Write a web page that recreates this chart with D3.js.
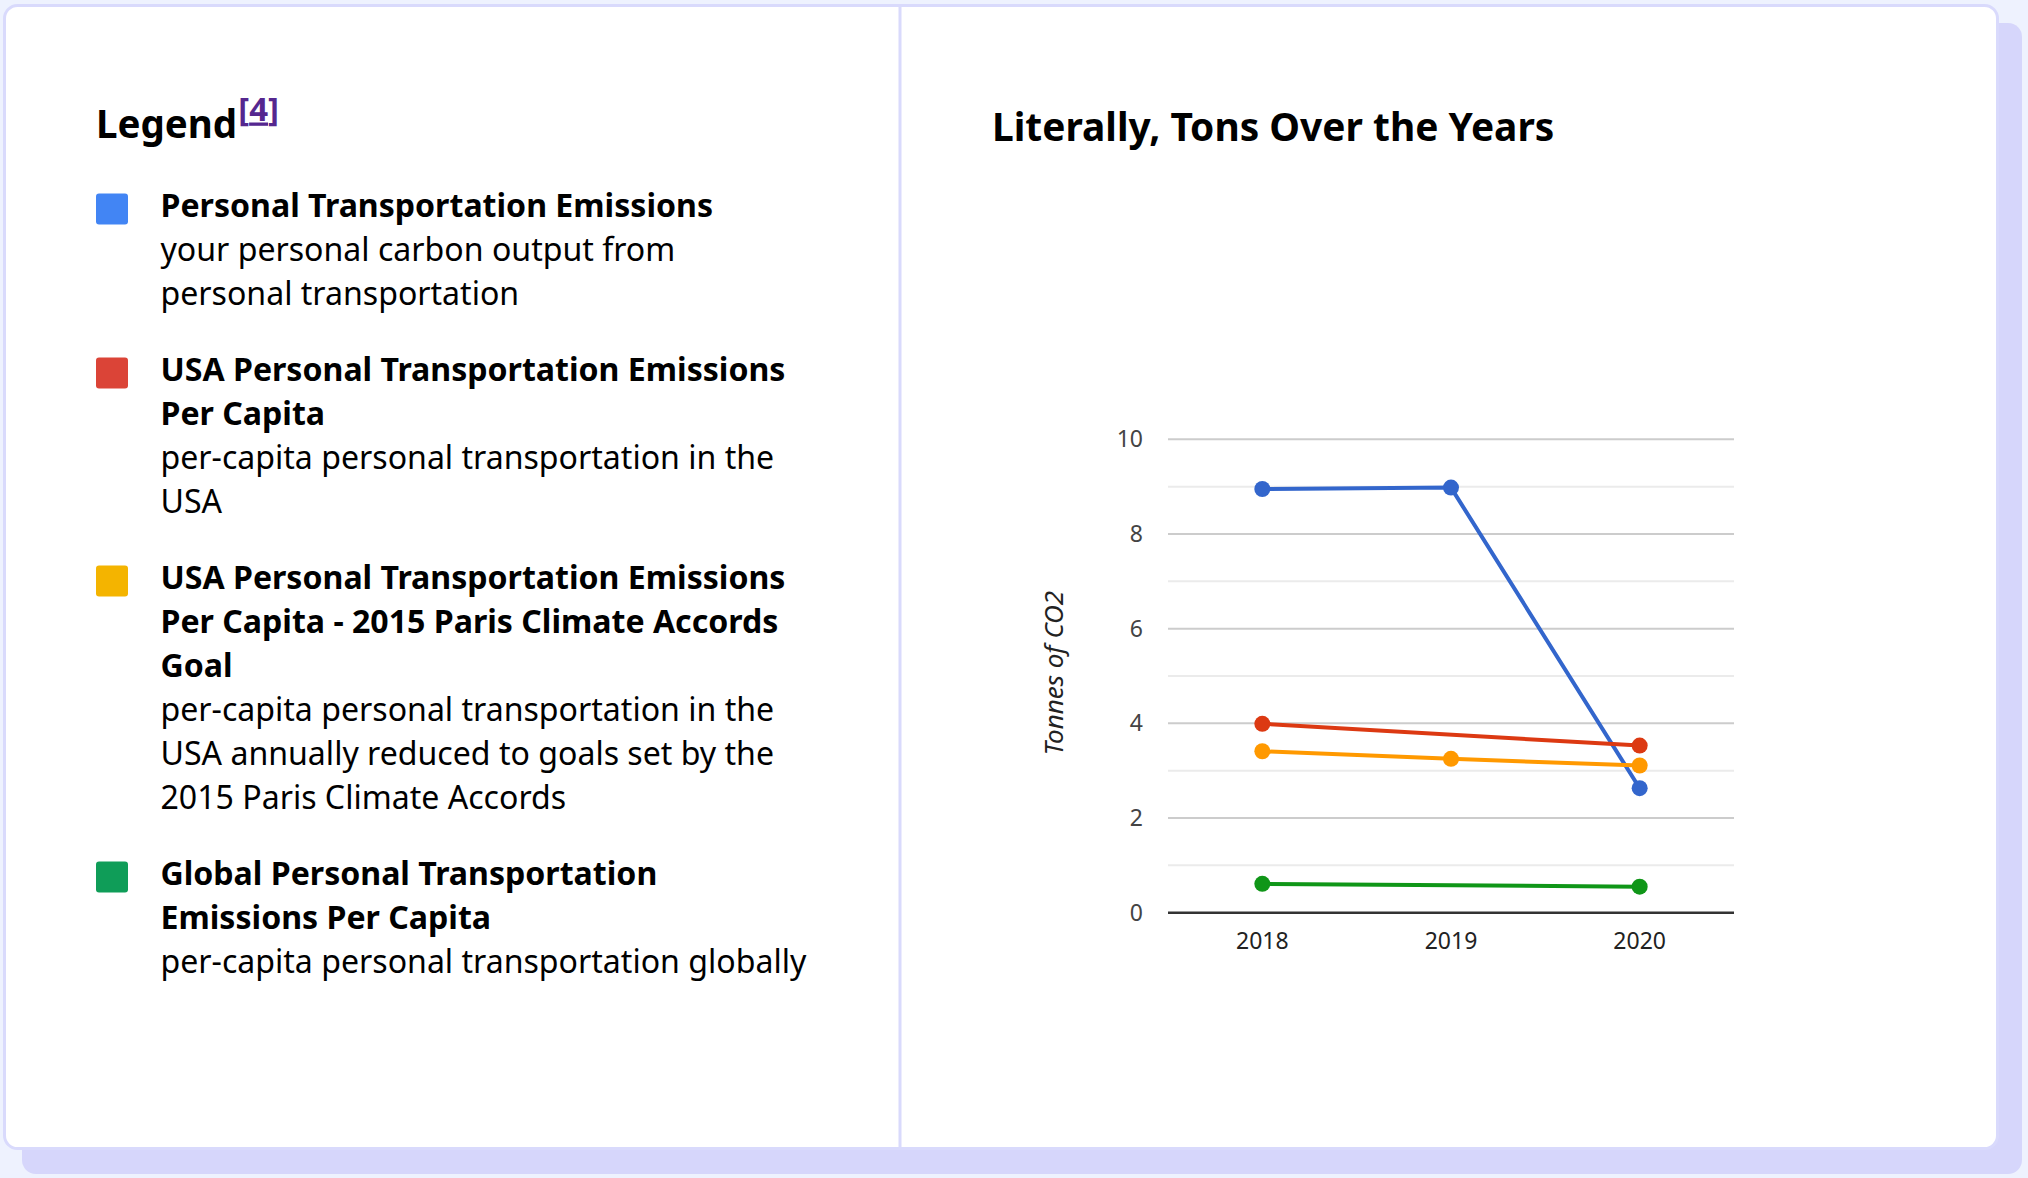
<!DOCTYPE html>
<html>
<head>
<meta charset="utf-8">
<script src="https://cdn.jsdelivr.net/npm/d3@7"></script>
<style>
  body { margin: 0; background: #eef2fe; font-family: "Noto Sans", sans-serif; }
</style>
</head>
<body>
<div id="page"></div>
<script>
// chart data
const years = ["2018", "2019", "2020"];
const personalEmissions = [8.95, 8.98, 2.63];
const usaPerCapita = [3.99, null, 3.53];
const parisGoal = [3.41, 3.25, 3.11];
const globalPerCapita = [0.61, null, 0.55];
const yTicks = [0, 2, 4, 6, 8, 10];
const yMinor = [1, 3, 5, 7, 9];

const seriesValues = [personalEmissions, usaPerCapita, parisGoal, globalPerCapita];
const lineColors = ["#3366cc", "#dc3912", "#ff9900", "#109618"];
const swatchColors = ["#4285f4", "#db4437", "#f4b400", "#0f9d58"];

// legend text, already broken into lines like the page shows it
const legendTitles = [
  ["Personal Transportation Emissions"],
  ["USA Personal Transportation Emissions", "Per Capita"],
  ["USA Personal Transportation Emissions", "Per Capita - 2015 Paris Climate Accords", "Goal"],
  ["Global Personal Transportation", "Emissions Per Capita"]
];
const legendDescs = [
  ["your personal carbon output from", "personal transportation"],
  ["per-capita personal transportation in the", "USA"],
  ["per-capita personal transportation in the", "USA annually reduced to goals set by the", "2015 Paris Climate Accords"],
  ["per-capita personal transportation globally"]
];

const W = 2028, H = 1178;
const border_color = "#d9dafc";

const svg = d3.select("#page").append("svg")
  .attr("width", W).attr("height", H);

// card + shadow
svg.append("rect")
  .attr("x", 22).attr("y", 23).attr("width", 2000).attr("height", 1151)
  .attr("rx", 14).style("fill", "#d6d6fb");
svg.append("rect")
  .attr("x", 4.5).attr("y", 5.5).attr("width", 1993).attr("height", 1143)
  .attr("rx", 13).style("fill", "#ffffff")
  .style("stroke", border_color).style("stroke-width", 3);
svg.append("line")
  .attr("x1", 900).attr("x2", 900).attr("y1", 5).attr("y2", 1149)
  .style("stroke", border_color).style("stroke-width", 3);

// ---- legend panel ----
const legTitle = svg.append("text")
  .attr("x", 96).attr("y", 138)
  .style("font-size", "38.5px").style("font-weight", 700).style("fill", "#000");
legTitle.append("tspan").text("Legend");
const sup = legTitle.append("tspan").attr("dx", 1).attr("dy", -17.5)
  .style("font-size", "33px").style("fill", "#55278f");
sup.append("tspan").text("[");
sup.append("tspan").style("text-decoration", "underline").text("4");
sup.append("tspan").text("]");

const lineH = 44, itemGap = 32;
let baseY = 216.5;
legendTitles.forEach((titleLines, i) => {
  const g = svg.append("g");
  g.append("rect")
    .attr("x", 96).attr("y", baseY - 23).attr("width", 32).attr("height", 31)
    .attr("rx", 3).style("fill", swatchColors[i]);
  const lines = titleLines.map(t => ({ t, bold: true }))
    .concat(legendDescs[i].map(t => ({ t, bold: false })));
  g.selectAll("text").data(lines).join("text")
    .attr("x", 160.5)
    .attr("y", (d, j) => baseY + j * lineH)
    .style("font-size", "32.1px")
    .style("font-weight", d => d.bold ? 700 : 400)
    .style("fill", "#000")
    .text(d => d.t);
  baseY += lines.length * lineH + itemGap;
});

// ---- line chart ----
svg.append("text")
  .attr("x", 992).attr("y", 140.5)
  .style("font-size", "38.9px").style("font-weight", 700).style("fill", "#000")
  .text("Literally, Tons Over the Years");

const x = d3.scaleBand().domain(years).range([1168, 1734]);
const y = d3.scaleLinear().domain([0, 10]).range([912.7, 439.3]);

const grid = svg.append("g");
grid.selectAll("line.minor").data(yMinor).join("line")
  .attr("class", "minor")
  .attr("x1", 1168).attr("x2", 1734)
  .attr("y1", d => y(d)).attr("y2", d => y(d))
  .style("stroke", "#ebebeb").style("stroke-width", 2);
grid.selectAll("line.major").data(yTicks.filter(d => d > 0)).join("line")
  .attr("class", "major")
  .attr("x1", 1168).attr("x2", 1734)
  .attr("y1", d => y(d)).attr("y2", d => y(d))
  .style("stroke", "#cccccc").style("stroke-width", 2);

const yAxis = svg.append("g")
  .attr("transform", "translate(1168,0)")
  .call(d3.axisLeft(y).tickValues(yTicks).tickSize(0).tickPadding(25));
yAxis.select(".domain").remove();
yAxis.selectAll("text")
  .style("font-family", "Noto Sans").style("font-size", "23px").style("fill", "#444");

const xAxis = svg.append("g")
  .attr("transform", `translate(0,${y(0)})`)
  .call(d3.axisBottom(x).tickSize(0).tickPadding(20));
xAxis.select(".domain").remove();
xAxis.selectAll("text")
  .style("font-family", "Noto Sans").style("font-size", "23px").style("fill", "#222");

svg.append("line")
  .attr("x1", 1168).attr("x2", 1734).attr("y1", y(0)).attr("y2", y(0))
  .style("stroke", "#333").style("stroke-width", 2.5);

svg.append("text")
  .attr("transform", "translate(1063,673) rotate(-90)")
  .attr("text-anchor", "middle")
  .style("font-size", "26px").style("font-style", "italic").style("fill", "#222")
  .text("Tonnes of CO2");

const line = d3.line()
  .x(d => x(d.year) + x.bandwidth() / 2)
  .y(d => y(d.v));

seriesValues.forEach((vals, i) => {
  const pts = years.map((yr, j) => ({ year: yr, v: vals[j] })).filter(d => d.v != null);
  svg.append("path").datum(pts)
    .attr("d", line)
    .style("fill", "none").style("stroke", lineColors[i]).style("stroke-width", 4);
  svg.selectAll(null).data(pts).join("circle")
    .attr("cx", d => x(d.year) + x.bandwidth() / 2)
    .attr("cy", d => y(d.v))
    .attr("r", 8)
    .style("fill", lineColors[i]);
});
</script>
</body>
</html>
